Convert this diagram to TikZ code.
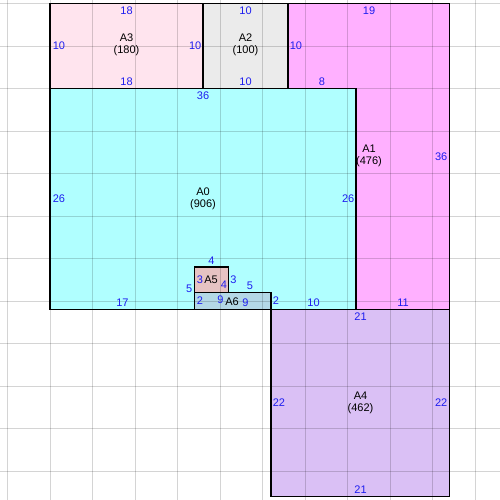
\documentclass[tikz,border=0pt]{standalone}
\usepackage{fontspec}
\setmainfont{Liberation Sans}
\definecolor{cAthree}{RGB}{255,228,238}
\definecolor{cAtwo}{RGB}{235,235,235}
\definecolor{cAone}{RGB}{255,176,255}
\definecolor{cAzero}{RGB}{176,255,255}
\definecolor{cAfour}{RGB}{218,192,245}
\definecolor{cAfive}{RGB}{230,195,195}
\definecolor{cAsix}{RGB}{180,216,230}
\definecolor{lblblue}{RGB}{30,30,240}
\begin{document}
\begin{tikzpicture}[x=0.75pt,y=-0.75pt,
  gridline/.style={draw=black,opacity=0.17,line width=0.75pt},
  border/.style={draw=black,line width=1pt},
  txt/.style={inner sep=0pt,font=\fontsize{8.25}{10}\selectfont},
  blab/.style={txt,text=lblblue},
  nm/.style={txt,text=black}]
\useasboundingbox (0,0) rectangle (500,500);
\fill[white] (0,0) rectangle (500,500);
% fills
\fill[cAone] (288,3.5) rectangle (449.5,309.5);
\fill[cAthree] (50,3.5) rectangle (203,88.5);
\fill[cAtwo] (203,3.5) rectangle (288,88.5);
\fill[cAzero] (50,88.5) rectangle (356,309.5);
\fill[cAfour] (271,309.5) rectangle (449.5,496.5);
\fill[cAfive] (194.5,267) rectangle (228.5,292.5);
\fill[cAsix] (194.5,292.5) rectangle (271,309.5);
% grid
\foreach \k in {0,...,11} {
  \draw[gridline] ({7.5+42.5*\k},0) -- ({7.5+42.5*\k},500);
  \draw[gridline] (0,{3.5+42.5*\k}) -- (500,{3.5+42.5*\k});
}
% borders
\draw[border] (50,3.5) rectangle (203,88.5);
\draw[border] (203,3.5) rectangle (288,88.5);
\draw[border] (288,3.5) -- (449.5,3.5) -- (449.5,309.5) -- (356,309.5) -- (356,88.5) -- (288,88.5) -- cycle;
\draw[border] (50,88.5) rectangle (356,309.5);
\draw[border] (271,309.5) rectangle (449.5,496.5);
\draw[border] (194.5,267) rectangle (228.5,292.5);
\draw[border] (194.5,292.5) rectangle (271,309.5);
% A3
\node[blab] (a3t) at (126.5,10.5) {18};
\node[blab] (a3b) at (126.5,82) {18};
\node[blab,anchor=west] (a3l) at (52.5,46) {10};
\node[blab,anchor=east] (a3r) at (201.5,46) {10};
\node[nm] (a3n) at (126.5,38) {A3};
\node[nm] (a3a) at (126.5,50.5) {(180)};
% A2
\node[blab] (a2t) at (245.5,10.5) {10};
\node[blab] (a2b) at (245.5,82) {10};
\node[nm] (a2n) at (245.5,38) {A2};
\node[nm] (a2a) at (245.5,50.5) {(100)};
% A1
\node[blab] (a1t) at (369,10.5) {19};
\node[blab,anchor=west] (a1l) at (289.5,46) {10};
\node[blab] (a1b1) at (322,82) {8};
\node[blab,anchor=east] (a1r) at (447.5,156.5) {36};
\node[blab] (a1b2) at (403,302.5) {11};
\node[nm] (a1n) at (369,149) {A1};
\node[nm] (a1a) at (369,161.5) {(476)};
% A0
\node[blab] (a0t) at (203,95.5) {36};
\node[blab,anchor=west] (a0l) at (52.5,199) {26};
\node[blab,anchor=east] (a0r) at (354.5,199) {26};
\node[blab] (a0b1) at (122.5,302.5) {17};
\node[blab] (a0b2) at (313.5,302.5) {10};
\node[blab] (a0n4) at (211.5,261) {4};
\node[blab,anchor=east] (a0n5l) at (192.5,289) {5};
\node[blab,anchor=west] (a0n3) at (230,279.5) {3};
\node[blab] (a0n5r) at (250,285.5) {5};
\node[blab,anchor=west] (a0n2) at (272.5,301) {2};
\node[nm] (a0n) at (203,192) {A0};
\node[nm] (a0a) at (203,204.5) {(906)};
% A5
\node[blab,anchor=west] (a5l) at (196.5,279.5) {3};
\node[nm] (a5n) at (211,279.5) {A5};
\node[blab] (a5b) at (224,285) {4};
% A6
\node[blab,anchor=west] (a6l) at (196.5,301) {2};
\node[blab] (a6t) at (220.5,300) {9};
\node[nm] (a6n) at (232,301.5) {A6};
\node[blab] (a6b) at (245.5,303) {9};
% A4
\node[blab] (a4t) at (360.5,317) {21};
\node[blab,anchor=west] (a4l) at (272.5,403) {22};
\node[blab,anchor=east] (a4r) at (447.5,403) {22};
\node[blab] (a4b) at (360.5,489.5) {21};
\node[nm] (a4n) at (360.5,396) {A4};
\node[nm] (a4a) at (360.5,408.5) {(462)};
\end{tikzpicture}
\end{document}
